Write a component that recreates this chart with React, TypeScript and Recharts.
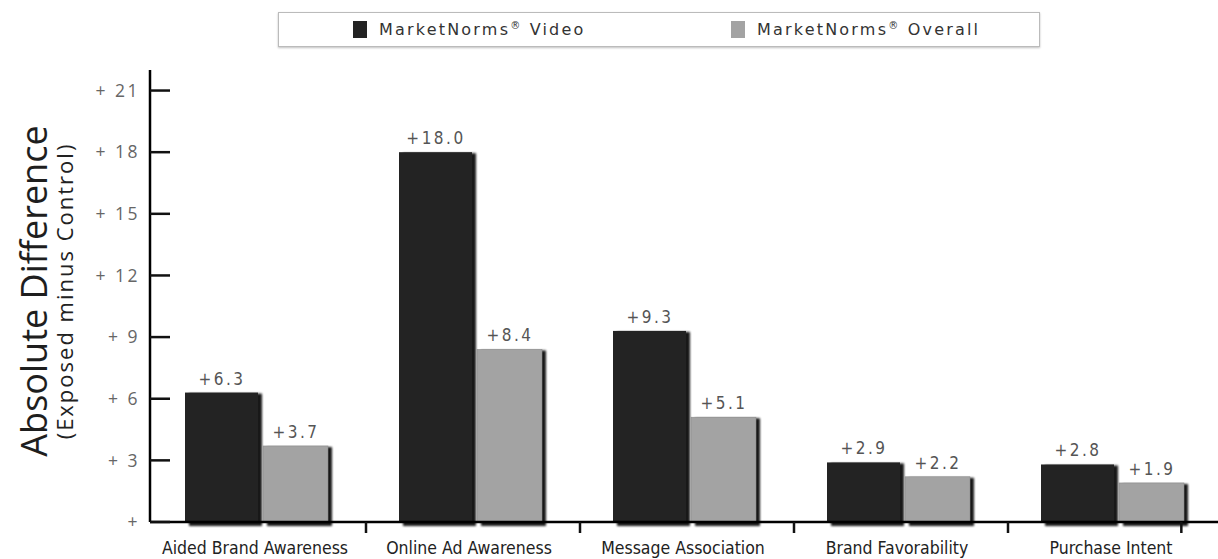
import React from 'react';
import { BarChart, Bar, XAxis, YAxis, LabelList } from 'recharts';

const categories = [
  'Aided Brand Awareness',
  'Online Ad Awareness',
  'Message Association',
  'Brand Favorability',
  'Purchase Intent',
];
const videoValues = [6.3, 18.0, 9.3, 2.9, 2.8];
const overallValues = [3.7, 8.4, 5.1, 2.2, 1.9];
const seriesNames = ['MarketNorms® Video', 'MarketNorms® Overall'];
const seriesColors = ['#232323', '#a3a3a3'];
const yTicks = [0, 3, 6, 9, 12, 15, 18, 21];
const yTitle = 'Absolute Difference';
const ySubtitle = '(Exposed minus Control)';

const data = categories.map((c, i) => ({
  category: c,
  video: videoValues[i],
  overall: overallValues[i],
}));

const DarkShape = (props: any) => {
  const { x, y, width, height } = props;
  if (width == null || height == null) return null;
  return (
    <g>
      <rect x={x + 4} y={y + 1} width={width - 1} height={height + 3} fill="#000" opacity={0.9} filter="url(#soft)" />
      <rect x={x} y={y} width={width - 1} height={height} fill={seriesColors[0]} />
    </g>
  );
};

const GreyShape = (props: any) => {
  const { x, y, width, height } = props;
  if (width == null || height == null) return null;
  return (
    <g>
      <rect x={x + 8} y={y + 1} width={width - 9} height={height + 3} fill="#000" opacity={0.9} filter="url(#soft)" />
      <rect x={x + 4} y={y} width={width - 9} height={height} fill={seriesColors[1]} stroke="#8a8a8a" strokeWidth={0.6} />
    </g>
  );
};

const YTick = (props: any) => {
  const { x, y, payload } = props;
  const v = payload.value;
  return (
    <g>
      <line x1={x + 10} x2={x + 30} y1={y} y2={y} stroke="#111" strokeWidth={2.5} />
      <text
        x={x}
        y={y}
        dy="0.36em"
        textAnchor="end"
        fill="#666"
        fontSize={17.5}
        fontFamily="'Open Sans', sans-serif"
        letterSpacing={2.5}
      >
        {v === 0 ? '+' : `+ ${v}`}
      </text>
    </g>
  );
};

const XTick = (props: any) => {
  const { x, y, payload, index } = props;
  const half = payload.offset || 107;
  const right = index === categories.length - 1 ? x + half * 0.62 : x + half;
  return (
    <g>
      <line x1={right} x2={right} y1={y} y2={y + 11} stroke="#111" strokeWidth={2.5} />
      <text
        x={x - 4}
        y={y + 32}
        textAnchor="middle"
        fill="#222"
        fontSize={17.5}
        fontFamily="'DejaVu Sans Condensed', 'DejaVu Sans', sans-serif"
      >
        {payload.value}
      </text>
    </g>
  );
};

const YTitle = (props: any) => {
  const vb = props.viewBox || { x: 0, y: 70, width: 150, height: 452 };
  const cy = vb.y + vb.height / 2 - 5;
  const x1 = 33;
  const x2 = 64;
  return (
    <g>
      <text
        x={x1}
        y={cy}
        transform={`rotate(-90 ${x1} ${cy})`}
        textAnchor="middle"
        dominantBaseline="central"
        fontSize={36}
        fill="#1e1e1e"
        fontFamily="'Open Sans', sans-serif"
      >
        {yTitle}
      </text>
      <text
        x={x2}
        y={cy}
        transform={`rotate(-90 ${x2} ${cy})`}
        textAnchor="middle"
        dominantBaseline="central"
        fontSize={22}
        fill="#222"
        fontFamily="'Open Sans', sans-serif"
        letterSpacing={2}
      >
        {ySubtitle}
      </text>
    </g>
  );
};

const fmt = (v: any) => `+${Number(v).toFixed(1)}`;

const labelStyle = {
  fill: '#555',
  fontSize: 17,
  fontFamily: "'DejaVu Sans Condensed', 'DejaVu Sans', sans-serif",
  letterSpacing: 2.5,
};

const LegendName = ({ name }: { name: string }) => {
  const parts = name.split('®');
  return (
    <span>
      {parts[0]}
      <span style={{ fontSize: 10, verticalAlign: 'super' }}>®</span>
      {parts[1]}
    </span>
  );
};

export default function App() {
  return (
    <div
      style={{
        position: 'absolute',
        left: 0,
        top: 0,
        width: 1218,
        height: 559,
        overflow: 'hidden',
        background: '#fff',
      }}
    >
      <div
        style={{
          position: 'absolute',
          left: 278,
          top: 12,
          width: 760,
          height: 33,
          border: '1px solid #bbb',
          boxShadow: '0 1px 2px rgba(0,0,0,0.25)',
          background: '#fff',
          fontFamily: "'DejaVu Sans', sans-serif",
          fontSize: 16,
          color: '#333',
          letterSpacing: 2.2,
          zIndex: 2,
        }}
      >
        {seriesNames.map((name, i) => (
          <div
            key={name}
            style={{ position: 'absolute', left: i === 0 ? 74 : 452, top: 7, display: 'flex', alignItems: 'center' }}
          >
            <span
              style={{ display: 'inline-block', width: 14, height: 17, background: seriesColors[i], marginRight: 12 }}
            />
            <LegendName name={name} />
          </div>
        ))}
      </div>
      <BarChart
        width={1232}
        height={559}
        data={data}
        margin={{ top: 70, right: 10, left: 0, bottom: 0 }}
        barGap={0}
        style={{ position: 'absolute', left: 0, top: 0 }}
      >
        <defs>
          <filter id="soft" x="-10%" y="-10%" width="120%" height="120%">
            <feGaussianBlur stdDeviation="1.2" />
          </filter>
        </defs>
        <XAxis
          dataKey="category"
          height={37}
          axisLine={{ stroke: '#000', strokeWidth: 2.5 }}
          tickLine={false}
          tickSize={0}
          tickMargin={0}
          tick={<XTick />}
          padding={{ left: 2, right: 0 }}
          interval={0}
        />
        <YAxis
          type="number"
          domain={[0, 22]}
          ticks={yTicks}
          width={150}
          axisLine={{ stroke: '#000', strokeWidth: 2.5 }}
          tickLine={false}
          tickSize={0}
          tickMargin={10}
          tick={<YTick />}
          interval={0}
          label={<YTitle />}
        />
        <Bar dataKey="video" name={seriesNames[0]} barSize={74} shape={<DarkShape />} isAnimationActive={false}>
          <LabelList dataKey="video" position="top" offset={8} formatter={fmt} style={labelStyle} />
        </Bar>
        <Bar dataKey="overall" name={seriesNames[1]} barSize={74} shape={<GreyShape />} isAnimationActive={false}>
          <LabelList dataKey="overall" position="top" offset={8} formatter={fmt} style={labelStyle} />
        </Bar>
      </BarChart>
    </div>
  );
}
